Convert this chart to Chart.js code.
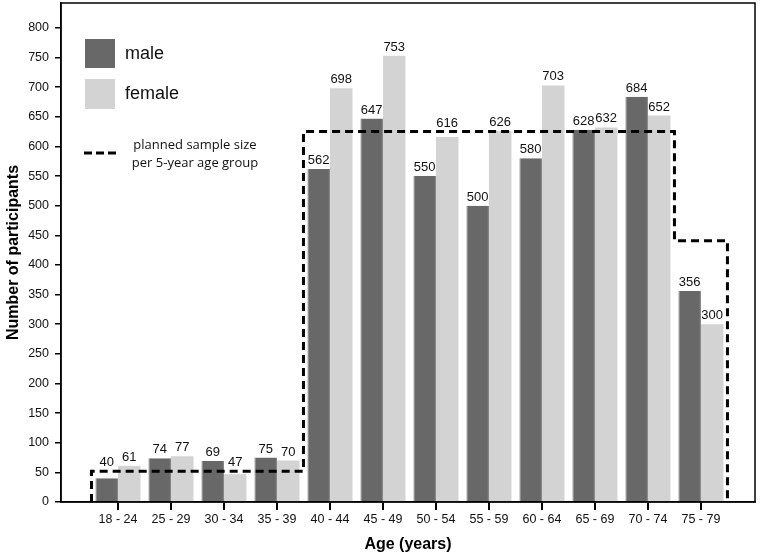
<!DOCTYPE html>
<html>
<head>
<meta charset="utf-8">
<script src="https://cdn.jsdelivr.net/npm/chart.js@4.4.1/dist/chart.umd.min.js"></script>
<style>
  html, body { margin: 0; padding: 0; background: #fff; }
  #wrap { width: 760px; height: 556px; }
</style>
</head>
<body>
<div id="wrap"><canvas id="chart" width="760" height="556"></canvas></div>
<script>
// age groups and number of participants
var ageGroups = ["18 - 24", "25 - 29", "30 - 34", "35 - 39", "40 - 44", "45 - 49",
                 "50 - 54", "55 - 59", "60 - 64", "65 - 69", "70 - 74", "75 - 79"];
var male   = [40, 74, 69, 75, 562, 647, 550, 500, 580, 628, 684, 356];
var female = [61, 77, 47, 70, 698, 753, 616, 626, 703, 632, 652, 300];
// planned sample size per 5-year age group
var planned = [52, 52, 52, 52, 625, 625, 625, 625, 625, 625, 625, 441];
var yTicks = [0, 50, 100, 150, 200, 250, 300, 350, 400, 450, 500, 550, 600, 650, 700, 750, 800];

var FONT = "'Liberation Sans', Arial, sans-serif";

function toPoints(arr) {
    return arr.map(function (v, i) { return { x: i, y: v }; });
}

// step outline: starts and ends on the x axis, steps at group edges
var plannedLine = [{ x: -0.5, y: 0 }];
planned.forEach(function (v, i) { plannedLine.push({ x: i + 0.5, y: v }); });
plannedLine.push({ x: ageGroups.length - 0.5, y: 0 });

var frame = {
    id: 'frame',
    afterDraw: function (chart) {
        var a = chart.chartArea, ctx = chart.ctx;
        ctx.save();
        ctx.strokeStyle = '#000';
        ctx.lineWidth = 1.5;
        ctx.strokeRect(a.left, a.top, a.right - a.left, a.bottom - a.top);
        ctx.restore();
    }
};

var barLabels = {
    id: 'barLabels',
    afterDatasetsDraw: function (chart) {
        var ctx = chart.ctx;
        var yScale = chart.scales.y;
        ctx.save();
        ctx.font = "13px " + FONT;
        ctx.fillStyle = '#111';
        ctx.textAlign = 'center';
        ctx.textBaseline = 'alphabetic';
        [0, 1].forEach(function (d) {
            var meta = chart.getDatasetMeta(d);
            meta.data.forEach(function (bar, i) {
                var y = bar.y - 5;
                // lift the label over the dashed line if it would sit on it
                var lineY = yScale.getPixelForValue(planned[i]);
                if (bar.y > lineY && y - 11 < lineY + 2) y = lineY - 5;
                ctx.fillText(chart.data.datasets[d].data[i].y, bar.x, y);
            });
        });
        ctx.restore();
    }
};

var legendBox = {
    id: 'legendBox',
    afterDraw: function (chart) {
        var ctx = chart.ctx;
        ctx.save();
        ctx.fillStyle = '#686868';
        ctx.fillRect(85, 39, 30, 29);
        ctx.fillStyle = '#d3d3d3';
        ctx.fillRect(85, 79, 30, 30);
        ctx.fillStyle = '#111';
        ctx.font = "18px " + FONT;
        ctx.textBaseline = 'middle';
        ctx.fillText('male', 125, 54);
        ctx.fillText('female', 125, 94);
        ctx.strokeStyle = '#000';
        ctx.lineWidth = 3;
        ctx.setLineDash([8, 4]);
        ctx.beginPath();
        ctx.moveTo(84, 153);
        ctx.lineTo(120, 153);
        ctx.stroke();
        ctx.font = "13px 'Open Sans', sans-serif";
        ctx.textAlign = 'center';
        ctx.fillText('planned sample size', 195, 145);
        ctx.fillText('per 5-year age group', 195, 163);
        ctx.restore();
    }
};

new Chart(document.getElementById('chart'), {
    type: 'bar',
    data: {
        datasets: [{
            label: 'male',
            data: toPoints(male),
            backgroundColor: '#686868',
            borderColor: '#7c7c7c',
            borderWidth: { left: 1, right: 1, top: 0, bottom: 0 },
            categoryPercentage: 0.85,
            barPercentage: 1,
            order: 2
        }, {
            label: 'female',
            data: toPoints(female),
            backgroundColor: '#d3d3d3',
            borderWidth: 0,
            categoryPercentage: 0.85,
            barPercentage: 1,
            order: 2
        }, {
            type: 'line',
            label: 'planned sample size per 5-year age group',
            data: plannedLine,
            borderColor: '#000',
            borderWidth: 3,
            borderDash: [8, 5],
            stepped: 'after',
            pointRadius: 0,
            fill: false,
            order: 1
        }]
    },
    options: {
        responsive: false,
        animation: false,
        layout: { padding: { left: 0, right: 5, top: 3, bottom: 0 } },
        plugins: {
            legend: { display: false },
            tooltip: { enabled: false }
        },
        scales: {
            x: {
                type: 'linear',
                offset: false,
                min: -1.075,
                max: 12.02,
                afterBuildTicks: function (scale) {
                    scale.ticks = ageGroups.map(function (g, i) { return { value: i }; });
                },
                afterFit: function (scale) {
                    scale.height = 54;
                    scale.paddingLeft = 0;
                    scale.paddingRight = 0;
                },
                grid: { display: true, offset: false, drawOnChartArea: false, drawTicks: true, tickLength: 8, color: '#000', lineWidth: 2 },
                border: { display: true, color: '#000', width: 1.5 },
                ticks: {
                    autoSkip: false,
                    maxRotation: 0,
                    padding: 2,
                    color: '#111',
                    font: { family: FONT, size: 12.5 },
                    callback: function (v) { return ageGroups[v]; }
                },
                title: {
                    display: true,
                    text: 'Age (years)',
                    color: '#000',
                    font: { family: FONT, size: 16, weight: 'bold' },
                    padding: { top: 0, bottom: 2 }
                }
            },
            y: {
                min: 0,
                max: 842,
                afterBuildTicks: function (scale) {
                    scale.ticks = yTicks.map(function (v) { return { value: v }; });
                },
                afterFit: function (scale) {
                    scale.width = 61;
                    scale.paddingTop = 0;
                    scale.paddingBottom = 0;
                },
                grid: { display: true, drawOnChartArea: false, drawTicks: true, tickLength: 6, color: '#000', lineWidth: 1.5 },
                border: { display: true, color: '#000', width: 1.5 },
                ticks: {
                    padding: 6,
                    color: '#111',
                    font: { family: FONT, size: 12.5 }
                },
                title: {
                    display: true,
                    text: 'Number of participants',
                    color: '#000',
                    font: { family: FONT, size: 16, weight: 'bold' },
                    padding: { top: 4, bottom: 0 }
                }
            }
        }
    },
    plugins: [frame, barLabels, legendBox]
});
</script>
</body>
</html>
